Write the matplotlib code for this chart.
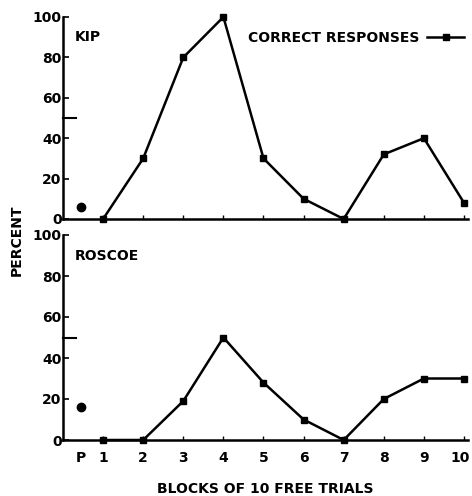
import numpy as np
import matplotlib
matplotlib.use('Agg')
import matplotlib.pyplot as plt
import matplotlib.transforms as mtransforms
from matplotlib.lines import Line2D

# posiciones en x: P va antes del bloque 1
p_pos = 0.45
bloques = [1, 2, 3, 4, 5, 6, 7, 8, 9, 10]
etiquetas_x = ['P', '1', '2', '3', '4', '5', '6', '7', '8', '9', '10']

kip_p = 6
kip = [0, 30, 80, 100, 30, 10, 0, 32, 40, 8]
roscoe_p = 16
roscoe = [0, 0, 19, 50, 28, 10, 0, 20, 30, 30]

yticks = [0, 20, 40, 60, 80, 100]

plt.rcParams['font.family'] = ['DejaVu Sans']
plt.rcParams['font.weight'] = 'bold'

W, H = 472, 496
fig = plt.figure(figsize=(W / 100, H / 100), dpi=100)


def crear_ejes(top_px, bottom_px):
    left, right = 63, 468
    return fig.add_axes([left / W, 1 - bottom_px / H, (right - left) / W, (bottom_px - top_px) / H])


def dibujar(ax, p_val, valores, nombre):
    ax.plot(bloques, valores, '-s', color='black', lw=1.8, ms=4.5, clip_on=False, zorder=3)
    ax.plot([p_pos], [p_val], 'o', color='black', ms=6, clip_on=False, zorder=3)
    ax.set_xlim(0, 10.1)
    ax.set_ylim(0, 100)
    ax.spines['top'].set_visible(False)
    ax.spines['right'].set_visible(False)
    ax.spines['left'].set_linewidth(1.8)
    ax.spines['bottom'].set_linewidth(1.8)
    ax.set_yticks(yticks)
    ax.set_yticklabels([str(v) for v in yticks], fontsize=10, fontweight='bold')
    ax.tick_params(axis='y', direction='in', length=4, width=1.2, pad=1)
    ax.tick_params(axis='x', direction='in', length=3, width=1.0)
    # marca larga en 50
    ax.plot([0, 0.33], [50, 50], color='black', lw=1.5, clip_on=False)
    ax.text(0.3, 90, nombre, fontsize=10, fontweight='bold', va='center', ha='left')


ax1 = crear_ejes(17, 219)
dibujar(ax1, kip_p, kip, 'KIP')
ax1.set_xticks(bloques)
ax1.set_xticklabels([])

ax2 = crear_ejes(235, 440)
dibujar(ax2, roscoe_p, roscoe, 'ROSCOE')
ax2.set_xticks([p_pos] + bloques)
ax2.set_xticklabels(etiquetas_x, fontsize=10, fontweight='bold')
ax2.tick_params(axis='x', pad=8)
ax2.xaxis.get_major_ticks()[0].tick1line.set_visible(False)
# el "10" queda pegado al borde; se corre un poco a la izquierda
ultima = ax2.get_xticklabels()[-1]
ultima.set_transform(ultima.get_transform() + mtransforms.ScaledTranslation(-4 / 100, 0, fig.dpi_scale_trans))
ax2.set_xlabel('BLOCKS OF 10 FREE TRIALS', fontsize=10, fontweight='bold', labelpad=12)

fig.text(17 / W, 1 - 240 / H, 'PERCENT', rotation=90, fontsize=10, fontweight='bold',
         ha='center', va='center')

handle = Line2D([], [], color='black', marker='s', lw=1.8, ms=4.5)
ax1.legend([handle], ['CORRECT RESPONSES'], loc='upper right', bbox_to_anchor=(1.02, 0.995),
           frameon=False, markerfirst=False, handlelength=2.6, handletextpad=0.6,
           prop={'size': 10, 'weight': 'bold'})

fig.savefig('out.png', dpi=100)
